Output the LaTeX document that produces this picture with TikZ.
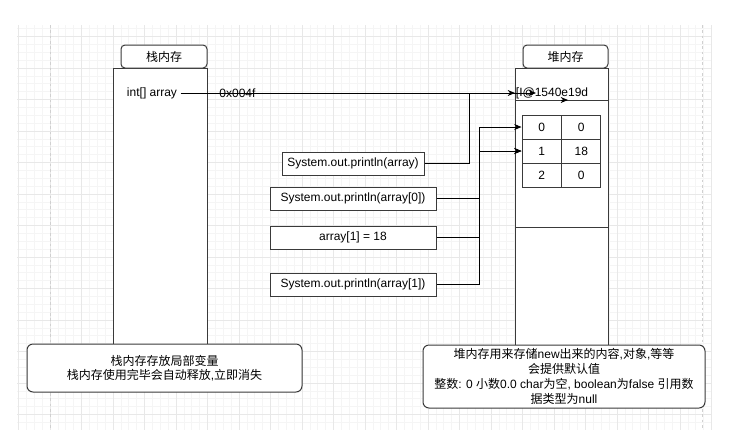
\documentclass[tikz,border=0pt]{standalone}
\usepackage{fontspec}
\setmainfont{Liberation Sans}
\newfontfamily\cjk{Noto Sans CJK SC}
\usetikzlibrary{arrows.meta}
\newcommand\zh[1]{{\cjk #1}}
\definecolor{linec}{HTML}{3A3A3A}
\definecolor{gminorc}{HTML}{F5F5F5}
\definecolor{gmajorc}{HTML}{E8E8E8}
\definecolor{gdashc}{HTML}{D0D0D0}
\begin{document}
\begin{tikzpicture}[x=0.75pt,y=-0.75pt,
  font=\fontsize{9}{11}\selectfont,
  box/.style={draw=linec, line width=0.75pt, fill=white, inner sep=0pt, text=black, align=center},
  rbox/.style={box, rounded corners=4.5pt},
  hdr/.style={box, rounded corners=3pt, minimum height=17.25pt},
  cell/.style={box, minimum width=29.6pt, minimum height=18pt},
  code/.style={box, minimum height=17.25pt},
  conn/.style={draw=black, line width=0.75pt, -{Stealth[length=5.5pt,width=4.5pt]}},
  gminor/.style={draw=gminorc, line width=0.5pt},
  gmajor/.style={draw=gmajorc, line width=0.6pt},
  gdash/.style={draw=gdashc, line width=0.6pt, dash pattern=on 2pt off 2pt}]
\useasboundingbox (0,0) rectangle (750,444);
\fill[white] (0,0) rectangle (750,444);
% grid
\foreach \i in {0,...,88}{\draw[gminor] ({18.5+\i*7.875},25) -- ({18.5+\i*7.875},430);}
\foreach \j in {0,...,50}{\draw[gminor] (17,{28.625+\j*7.875}) -- (712,{28.625+\j*7.875});}
\foreach \i in {0,4,...,88}{\draw[gmajor] ({18.5+\i*7.875},25) -- ({18.5+\i*7.875},430);}
\foreach \j in {1,5,...,49}{\draw[gmajor] (17,{28.625+\j*7.875}) -- (712,{28.625+\j*7.875});}
\draw[gdash] (50,25) -- (50,430);
\draw[gdash] (702,25) -- (702,430);
% stack
\node[box, minimum width=70.5pt, minimum height=207.75pt] (stack) at (160,206.5) {};
\node[hdr, minimum width=64.5pt] (stackh) at (164,56.5) {\zh{栈内存}};
% heap
\node[box, minimum width=69.75pt, minimum height=207.75pt] (heap) at (561.5,206.5) {};
\draw[linec, line width=0.75pt] (515,100) -- (608,100);
\draw[linec, line width=0.75pt] (515,227) -- (608,227);
\node[hdr, minimum width=63.75pt] (heaph) at (565.5,56.5) {\zh{堆内存}};
% array table
\node[cell] (c00) at (541.75,127) {0};
\node[cell] (c01) at (581.25,127) {0};
\node[cell] (c10) at (541.75,151) {1};
\node[cell] (c11) at (581.25,151) {18};
\node[cell] (c20) at (541.75,175) {2};
\node[cell] (c21) at (581.25,175) {0};
% texts
\node[inner sep=2.5pt] (var) at (152,93) {int[] array};
\node[anchor=west, inner sep=0.5pt] (ref) at (515,93) {[I@1540e19d};
\coordinate (refin) at (536,93);
\coordinate (s1) at (561,100);
\coordinate (s2) at (568,100);
% code boxes
\node[code, minimum width=106.5pt] (p0) at (353,163.5) {System.out.println(array)};
\node[code, minimum width=124.5pt] (p1) at (353,198.5) {System.out.println(array[0])};
\node[code, minimum width=124.5pt] (p2) at (353,237.5) {array[1] = 18};
\node[code, minimum width=124.5pt] (p3) at (353,284.5) {System.out.println(array[1])};
% connectors
\draw[conn] (var.east) -- node[pos=0.17, inner sep=0pt] (addr) {0x004f} (ref.west);
\draw[conn] (p0.east) -- ++(45,0) |- (refin);
\draw[conn] (p1.east) -- ++(43,0) |- (c00.west);
\draw[conn] (p2.east) -- ++(43,0) |- (c10.west);
\draw[conn] (p3.east) -- ++(43,0) |- (c10.west);
\draw[conn] (s1) -- (s2);
% note boxes
\node[rbox, minimum width=206.25pt, minimum height=36pt, font=\fontsize{9}{10.7}\selectfont] (snote) at (164.5,368)
  {\zh{栈内存存放局部变量}\\\zh{栈内存使用完毕会自动释放},\zh{立即消失}};
\node[rbox, minimum width=211.5pt, minimum height=47.25pt, font=\fontsize{9}{11.2}\selectfont] (hnote) at (564,376.5)
  {\zh{堆内存用来存储}new\zh{出来的内容},\zh{对象},\zh{等等}\\
   \zh{会提供默认值}\\
   \zh{整数}: 0 \zh{小数}0.0 char\zh{为空}, boolean\zh{为}false \zh{引用数}\\
   \zh{据类型为}null};
\end{tikzpicture}
\end{document}
